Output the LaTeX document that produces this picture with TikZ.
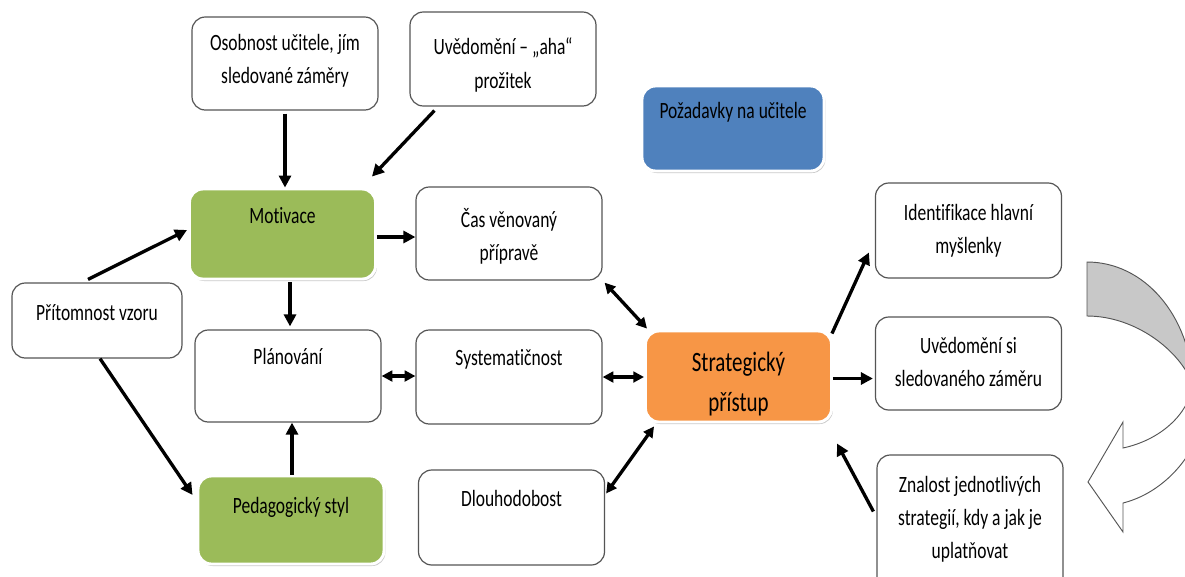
\documentclass[tikz,border=0pt]{standalone}
\usepackage{fontspec}
\setmainfont{Carlito}[FakeStretch=0.75, Ligatures=NoCommon]
\usetikzlibrary{arrows.meta, calc, shadows}
\definecolor{cgreen}{RGB}{155,187,89}
\definecolor{cblue}{RGB}{79,129,189}
\definecolor{corange}{RGB}{247,150,70}
\definecolor{cedge}{RGB}{85,85,85}
\definecolor{carc}{RGB}{200,200,200}
\newcommand{\boxtext}[4][139.5pt]{\parbox[c][#2][t]{#1}{\centering\rule{0pt}{#3}#4}}

\begin{document}
\begin{tikzpicture}[
  x=0.75pt, y=-0.75pt,
  font=\fontsize{17.5}{25}\selectfont,
  box/.style={draw=cedge, line width=0.9pt, rounded corners=10pt, inner sep=0pt, fill=white},
  cbox/.style={draw=white, line width=2.2pt, rounded corners=10pt, inner sep=0pt,
    drop shadow={shadow xshift=1pt, shadow yshift=-1.5pt, fill=black!35, opacity=.6}},
  arr/.style={line width=2.5pt, -{Triangle[length=9pt,width=9pt]}},
  darr/.style={line width=2.5pt, {Triangle[length=8pt,width=8pt]}-{Triangle[length=8pt,width=8pt]}},
]
\clip (0,0) rectangle (1185,576);
\fill[white] (0,0) rectangle (1185,576);

% top row
\node[box] (osob) at (285,63.5) {\boxtext{69.75pt}{24.75pt}{Osobnost učitele, jím\\sledované záměry}};
\node[box] (aha) at (503,59) {\boxtext{70.5pt}{32pt}{Uvědomění – „aha“\\prožitek}};
\node[cbox, fill=cblue] (req) at (733,128.5) {\boxtext[136.5pt]{63.75pt}{24pt}{Požadavky na učitele}};

% left column
\node[box] (prit) at (97,320.5) {\boxtext[127.5pt]{56.25pt}{27.75pt}{Přítomnost vzoru}};
\node[cbox, fill=cgreen] (mot) at (282.5,234) {\boxtext{67.5pt}{25.5pt}{Motivace}};
\node[box] (plan) at (288,376) {\boxtext{69pt}{25.5pt}{Plánování}};
\node[cbox, fill=cgreen] (ped) at (291,520) {\boxtext{66pt}{27.75pt}{Pedagogický styl}};

% middle column
\node[box] (cas) at (509,233.5) {\boxtext{69.75pt}{30pt}{Čas věnovaný\\přípravě}};
\node[box] (sys) at (509,377) {\boxtext{70.5pt}{26.25pt}{Systematičnost}};
\node[box] (dl) at (511.5,517.5) {\boxtext{71.25pt}{27pt}{Dlouhodobost}};

% centre
\node[cbox, fill=corange, font=\fontsize{21}{30}\selectfont] (strat) at (738.5,376.5)
  {\boxtext{68.25pt}{30pt}{Strategický\\přístup}};

% right column
\node[box] (ident) at (968.5,230.5) {\boxtext{71.25pt}{27.75pt}{Identifikace hlavní\\myšlenky}};
\node[box] (uvs) at (968.5,363.5) {\boxtext{69.75pt}{27pt}{Uvědomění si\\sledovaného záměru}};
\node[box] (znal) at (970,522.5) {\boxtext{101.25pt}{27.75pt}{Znalost jednotlivých\\strategií, kdy a jak je\\uplatňovat}};

% arrows
\draw[arr] ($(osob.south)+(0,3)$) -- (osob.south |- mot.north);
\draw[arr] ($(aha.south west)+(25,4)$) -- ($(mot.north east)+(-5,-11)$);
\draw[arr] ($(prit.north)+(-9,-3)$) -- ($(mot.west)+(-1,-4)$);
\draw[arr] ($(prit.south)+(3,0)$) -- ($(ped.west)+(-4,-25)$);
\draw[arr] ($(plan.north |- mot.south)+(2,2)$) -- ($(plan.north)+(2,-3)$);
\draw[arr] ($(ped.north)+(1,0)$) -- ($(ped.north |- plan.south)+(1,0)$);
\draw[arr] ($(mot.east)+(0,3)$) -- ($(mot.east -| cas.west)+(0,3)$);
\draw[darr] (plan.east) -- (plan.east -| sys.west);
\draw[darr] ($(cas.south east)+(2,2)$) -- ($(strat.north west)+(3,-1)$);
\draw[darr] (sys.east) -- (sys.east -| strat.west);
\draw[darr] ($(dl.east)+(1,-24)$) -- ($(strat.south west)+(10,3)$);
\draw[arr] ($(strat.north east)+(-1,4)$) -- ($(ident.west)+(-6,22)$);
\draw[arr] ($(strat.east)+(0,2)$) -- ($(strat.east -| uvs.west)+(-2,2)$);
\draw[arr] ($(znal.west)+(-3,-11)$) -- ($(strat.south east)+(4,20)$);

% curved arrow
\filldraw[fill=carc, draw=cedge, line width=0.7pt] (1087,262)
  .. controls (1144,262) and (1190,315) .. (1193,385)
  .. controls (1180,350) and (1135,316) .. (1087,316) -- cycle;
\filldraw[fill=white, draw=cedge, line width=0.7pt] (1193,385)
  .. controls (1188,415) and (1160,440) .. (1123,448)
  -- (1123,422) -- (1088,482) -- (1123,532) -- (1123,503)
  .. controls (1155,495) and (1182,470) .. (1195,442) -- cycle;
\end{tikzpicture}
\end{document}
